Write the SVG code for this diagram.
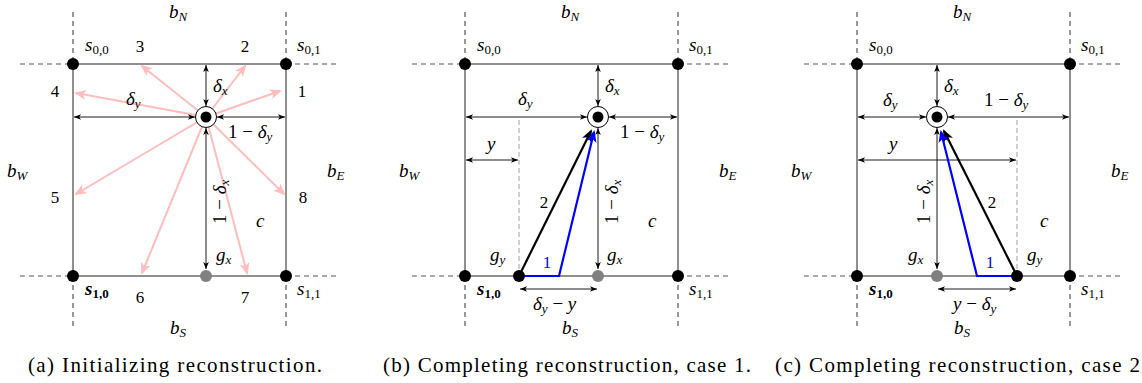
<svg xmlns="http://www.w3.org/2000/svg" width="1142" height="383" viewBox="0 0 1142 383">
<style>
text{font-family:"Liberation Serif","DejaVu Serif",serif;fill:#000}
.m{font-style:italic;font-size:19px}
.n{font-size:17px;text-anchor:middle}
.s{font-size:13px}
.r{font-style:normal}
.cap{font-size:21px}
.grid{fill:none;stroke:#555;stroke-width:1.3}
.dash{fill:none;stroke:#555;stroke-width:1.2;stroke-dasharray:5,4}
.dim{fill:none;stroke:#000;stroke-width:0.9;marker-start:url(#sa);marker-end:url(#sa)}
.pink{fill:none;stroke:#ffbdbd;stroke-width:2;marker-end:url(#pa)}
.blk{fill:none;stroke:#000;stroke-width:2.2;marker-end:url(#ba)}
.blu{fill:none;stroke:#0000ff;stroke-width:2.2;stroke-linejoin:miter;marker-end:url(#ua)}
.guide{fill:none;stroke:#d0d0d0;stroke-width:2;stroke-dasharray:5,3}
.v{fill:#000}
.g{fill:#808080}
</style>
<defs>
<marker id="sa" viewBox="0 0 10 8" refX="10" refY="4" markerWidth="7" markerHeight="5.6" markerUnits="userSpaceOnUse" orient="auto-start-reverse"><path d="M0,0 L10,4 L0,8 L2.5,4 z" fill="#000"/></marker>
<marker id="pa" viewBox="0 0 12 10" refX="10" refY="5" markerWidth="12" markerHeight="10" markerUnits="userSpaceOnUse" orient="auto"><path d="M0,0 L12,5 L0,10 L3,5 z" fill="#ffbdbd"/></marker>
<marker id="ba" viewBox="0 0 12 10" refX="10" refY="5" markerWidth="12" markerHeight="10" markerUnits="userSpaceOnUse" orient="auto"><path d="M0,0 L12,5 L0,10 L3,5 z" fill="#000"/></marker>
<marker id="ua" viewBox="0 0 12 10" refX="10" refY="5" markerWidth="12" markerHeight="10" markerUnits="userSpaceOnUse" orient="auto"><path d="M0,0 L12,5 L0,10 L3,5 z" fill="#0000ff"/></marker>
<g id="cell">
<path class="dash" d="M20,64 H73 M286,64 H340 M20,276 H73 M286,276 H340 M73,12 V64 M286,12 V64 M73,276 V330 M286,276 V330"/>
<rect class="grid" x="73" y="64" width="213" height="212"/>
</g>
<g id="cell-labels">
<text class="m" x="169" y="18">b<tspan class="s" dy="3">N</tspan></text>
<text class="m" x="170" y="334">b<tspan class="s" dy="3">S</tspan></text>
<text class="m" x="7" y="177">b<tspan class="s" dy="3">W</tspan></text>
<text class="m" x="327" y="177">b<tspan class="s" dy="3">E</tspan></text>
<text class="m" x="85" y="51">s<tspan class="s r" dy="3">0,0</tspan></text>
<text class="m" x="297" y="51">s<tspan class="s r" dy="3">0,1</tspan></text>
<text class="m" x="85" y="295" style="font-weight:bold">s<tspan class="s r" dy="3">1,0</tspan></text>
<text class="m" x="297" y="295">s<tspan class="s r" dy="3">1,1</tspan></text>
</g>
</defs>

<g id="panel-a">
<use href="#cell"/>
<g id="a-connectors">
<line class="pink" x1="206" y1="117" x2="280" y2="91"/>
<line class="pink" x1="206" y1="117" x2="245" y2="66"/>
<line class="pink" x1="206" y1="117" x2="142" y2="66"/>
<line class="pink" x1="206" y1="117" x2="76" y2="93"/>
<line class="pink" x1="206" y1="117" x2="76" y2="194"/>
<line class="pink" x1="206" y1="117" x2="142" y2="273"/>
<line class="pink" x1="206" y1="117" x2="247" y2="273"/>
<line class="pink" x1="206" y1="117" x2="284" y2="194"/>
<line class="dim" x1="206" y1="65" x2="206" y2="106"/>
<line class="dim" x1="74" y1="117" x2="195" y2="117"/>
<line class="dim" x1="217" y1="117" x2="285" y2="117"/>
<line class="dim" x1="206" y1="128" x2="206" y2="269"/>
</g>
<g id="a-s00"><circle class="v" cx="73" cy="64" r="6"/></g>
<g id="a-s01"><circle class="v" cx="286" cy="64" r="6"/></g>
<g id="a-s10"><circle class="v" cx="73" cy="276" r="6"/></g>
<g id="a-s11"><circle class="v" cx="286" cy="276" r="6"/></g>
<g id="a-gx"><circle class="g" cx="206" cy="276" r="6"/></g>
<g id="a-center"><circle cx="206" cy="117" r="10.5" fill="#fff" stroke="#000" stroke-width="1"/><circle class="v" cx="206" cy="117" r="5.5"/></g>
<use href="#cell-labels"/>
<g id="a-labels">
<text class="n" x="302" y="97">1</text>
<text class="n" x="245" y="52">2</text>
<text class="n" x="140" y="52">3</text>
<text class="n" x="55" y="97">4</text>
<text class="n" x="55" y="203">5</text>
<text class="n" x="140" y="303">6</text>
<text class="n" x="245" y="303">7</text>
<text class="n" x="303" y="203">8</text>
<text class="m" x="213" y="92">δ<tspan class="s" dy="3">x</tspan></text>
<text class="m" x="126" y="105">δ<tspan class="s" dy="3">y</tspan></text>
<text class="m" x="228" y="138"><tspan class="r">1 − </tspan>δ<tspan class="s" dy="3">y</tspan></text>
<text class="m" transform="translate(226,224) rotate(-90)"><tspan class="r">1 − </tspan>δ<tspan class="s" dy="3">x</tspan></text>
<text class="m" x="256" y="227">c</text>
<text class="m" x="216" y="261">g<tspan class="s" dy="3">x</tspan></text>
</g>
<text class="cap" x="28" y="372" textLength="294" lengthAdjust="spacing">(a) Initializing reconstruction.</text>
</g>

<g id="panel-b" transform="translate(392,0)">
<use href="#cell"/>
<g id="b-connectors">
<line class="guide" x1="127" y1="120" x2="127" y2="270"/>
<line class="dim" x1="206" y1="65" x2="206" y2="106"/>
<line class="dim" x1="74" y1="117" x2="195" y2="117"/>
<line class="dim" x1="217" y1="117" x2="285" y2="117"/>
<line class="dim" x1="206" y1="128" x2="206" y2="269"/>
<line class="dim" x1="74" y1="160" x2="126" y2="160"/>
<line class="dim" x1="128" y1="289" x2="205" y2="289"/>
<line class="blk" x1="127" y1="276" x2="199" y2="131"/>
<polyline class="blu" points="127,276 167,276 202,132"/>
</g>
<g id="b-s00"><circle class="v" cx="73" cy="64" r="6"/></g>
<g id="b-s01"><circle class="v" cx="286" cy="64" r="6"/></g>
<g id="b-s10"><circle class="v" cx="73" cy="276" r="6"/></g>
<g id="b-s11"><circle class="v" cx="286" cy="276" r="6"/></g>
<g id="b-gx"><circle class="g" cx="206" cy="276" r="6"/></g>
<g id="b-gy"><circle class="v" cx="127" cy="276" r="6"/></g>
<g id="b-center"><circle cx="206" cy="117" r="10.5" fill="#fff" stroke="#000" stroke-width="1"/><circle class="v" cx="206" cy="117" r="5.5"/></g>
<use href="#cell-labels"/>
<g id="b-labels">
<text class="m" x="213" y="92">δ<tspan class="s" dy="3">x</tspan></text>
<text class="m" x="126" y="105">δ<tspan class="s" dy="3">y</tspan></text>
<text class="m" x="228" y="138"><tspan class="r">1 − </tspan>δ<tspan class="s" dy="3">y</tspan></text>
<text class="m" transform="translate(226,224) rotate(-90)"><tspan class="r">1 − </tspan>δ<tspan class="s" dy="3">x</tspan></text>
<text class="m" x="95" y="150">y</text>
<text class="m" x="256" y="227">c</text>
<text class="m" x="215" y="261">g<tspan class="s" dy="3">x</tspan></text>
<text class="m" x="98" y="261">g<tspan class="s" dy="3">y</tspan></text>
<text class="n" x="152" y="208">2</text>
<text class="n" x="155" y="268" style="fill:#0000ff">1</text>
<text class="m" x="141" y="310">δ<tspan class="s" dy="3">y</tspan><tspan class="r" dy="-3"> − </tspan>y</text>
</g>
<text class="cap" x="-9" y="372" textLength="368" lengthAdjust="spacing">(b) Completing reconstruction, case 1.</text>
</g>

<g id="panel-c" transform="translate(784,0)">
<use href="#cell"/>
<g id="c-connectors">
<line class="guide" x1="233" y1="120" x2="233" y2="270"/>
<line class="dim" x1="153" y1="65" x2="153" y2="106"/>
<line class="dim" x1="74" y1="117" x2="142" y2="117"/>
<line class="dim" x1="164" y1="117" x2="285" y2="117"/>
<line class="dim" x1="153" y1="128" x2="153" y2="269"/>
<line class="dim" x1="74" y1="160" x2="232" y2="160"/>
<line class="dim" x1="154" y1="289" x2="232" y2="289"/>
<line class="blk" x1="233" y1="276" x2="160" y2="131"/>
<polyline class="blu" points="233,276 193,276 157,132"/>
</g>
<g id="c-s00"><circle class="v" cx="73" cy="64" r="6"/></g>
<g id="c-s01"><circle class="v" cx="286" cy="64" r="6"/></g>
<g id="c-s10"><circle class="v" cx="73" cy="276" r="6"/></g>
<g id="c-s11"><circle class="v" cx="286" cy="276" r="6"/></g>
<g id="c-gx"><circle class="g" cx="153" cy="276" r="6"/></g>
<g id="c-gy"><circle class="v" cx="233" cy="276" r="6"/></g>
<g id="c-center"><circle cx="153" cy="117" r="10.5" fill="#fff" stroke="#000" stroke-width="1"/><circle class="v" cx="153" cy="117" r="5.5"/></g>
<use href="#cell-labels"/>
<g id="c-labels">
<text class="m" x="160" y="92">δ<tspan class="s" dy="3">x</tspan></text>
<text class="m" x="99" y="106">δ<tspan class="s" dy="3">y</tspan></text>
<text class="m" x="200" y="106"><tspan class="r">1 − </tspan>δ<tspan class="s" dy="3">y</tspan></text>
<text class="m" transform="translate(146,224) rotate(-90)"><tspan class="r">1 − </tspan>δ<tspan class="s" dy="3">x</tspan></text>
<text class="m" x="105" y="150">y</text>
<text class="m" x="256" y="227">c</text>
<text class="m" x="124" y="261">g<tspan class="s" dy="3">x</tspan></text>
<text class="m" x="243" y="261">g<tspan class="s" dy="3">y</tspan></text>
<text class="n" x="208" y="208">2</text>
<text class="n" x="206" y="268" style="fill:#0000ff">1</text>
<text class="m" x="169" y="310">y<tspan class="r"> − </tspan>δ<tspan class="s" dy="3">y</tspan></text>
</g>
<text class="cap" x="-9" y="372" textLength="365" lengthAdjust="spacing">(c) Completing reconstruction, case 2</text>
</g>
</svg>
